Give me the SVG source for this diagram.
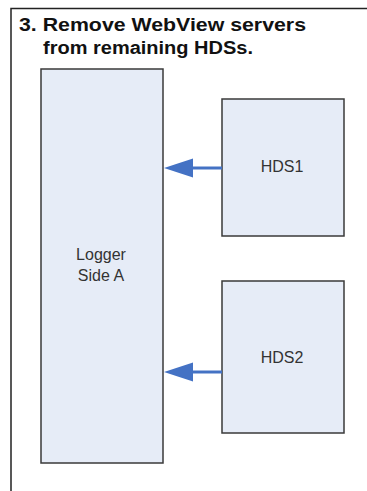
<svg xmlns="http://www.w3.org/2000/svg" width="367" height="491" viewBox="0 0 367 491">
<style>
.title{font-family:"Liberation Sans",Arial,sans-serif;font-size:17.5px;font-weight:bold;fill:#111}
.box{fill:#E6ECF7;stroke:#3a3a3a;stroke-width:1.5}
.lbl{font-family:"Liberation Sans",Arial,sans-serif;font-size:16px;fill:#333;text-anchor:middle}
.conn{stroke:#4472C4;stroke-width:3;fill:none}
.head{fill:#4472C4}
</style>
<rect width="367" height="491" fill="#fff"/>
<path d="M11,491 V8.5 H367" fill="none" stroke="#222" stroke-width="1.5"/>
<g id="title">
<text class="title" x="19" y="31" textLength="287" lengthAdjust="spacingAndGlyphs">3. Remove WebView servers</text>
<text class="title" x="43" y="54" textLength="210" lengthAdjust="spacingAndGlyphs">from remaining HDSs.</text>
</g>
<g id="logger">
<rect class="box" x="41" y="69" width="122" height="394"/>
<text class="lbl" x="101" y="260">Logger</text>
<text class="lbl" x="101" y="281">Side A</text>
</g>
<g id="hds1">
<rect class="box" x="222" y="99" width="122" height="137"/>
<text class="lbl" x="282" y="172">HDS1</text>
</g>
<g id="hds2">
<rect class="box" x="222" y="281" width="122" height="152"/>
<text class="lbl" x="282" y="363">HDS2</text>
</g>
<g id="connectors">
<line class="conn" x1="222" y1="168" x2="192" y2="168"/>
<path class="head" d="M193,158.5 L164,168 L193,177.5 Z"/>
<line class="conn" x1="222" y1="372" x2="192" y2="372"/>
<path class="head" d="M193,362.5 L164,372 L193,381.5 Z"/>
</g>
</svg>
